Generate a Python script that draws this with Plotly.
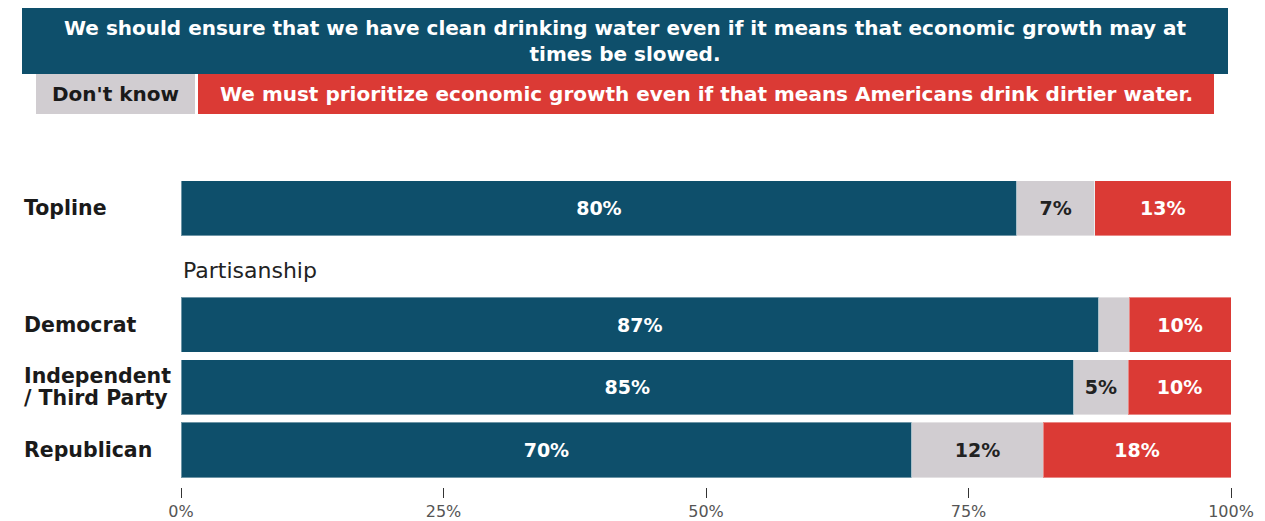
import plotly.graph_objects as go

# ---- data ----
categories = ["Topline", "Democrat", "Independent<br>/ Third Party", "Republican"]
clean_water = [79.6, 87.4, 85.0, 69.6]
dont_know = [7.4, 2.9, 5.2, 12.5]
economic_growth = [13.0, 9.7, 9.8, 17.9]
clean_water_labels = ["80%", "87%", "85%", "70%"]
dont_know_labels = ["7%", "", "5%", "12%"]
economic_growth_labels = ["13%", "10%", "10%", "18%"]
tick_values = [0, 25, 50, 75, 100]
tick_labels = ["0%", "25%", "50%", "75%", "100%"]
series_names = [
    "We should ensure that we have clean drinking water even if it means that economic growth may at<br>times be slowed.",
    "Don't know",
    "We must prioritize economic growth even if that means Americans drink dirtier water.",
]
group_label = "Partisanship"

# ---- layout constants (page pixels; page body has an 8px offset) ----
OFF = 8
W, H = 1265 - OFF, 521 - OFF
ML, MT = 181 - OFF, 181 - OFF
MR = W - (1231 - OFF)
MB = H - (487 - OFF)
PW, PH = W - ML - MR, H - MT - MB
row_pos = [3.87, 2.0, 1.0, 0.0]
BLUE, GREY, RED = "#0E4F6B", "#D1CDD1", "#DB3A35"
FONT = "DejaVu Sans"
LABEL_LINE_GAP = 22


def px_x(px):
    return (px - OFF - ML) / PW


def px_y(py):
    return (H - MB - (py - OFF)) / PH


fig = go.Figure()
for vals, labels, color, tcolor, name in [
    (clean_water, clean_water_labels, BLUE, "white", series_names[0]),
    (dont_know, dont_know_labels, GREY, "#222222", series_names[1]),
    (economic_growth, economic_growth_labels, RED, "white", series_names[2]),
]:
    fig.add_trace(go.Bar(
        x=vals, y=row_pos, orientation="h", width=0.88,
        marker=dict(color=color, line=dict(color="rgba(255,255,255,0.4)", width=1)),
        text=labels, textposition="inside", insidetextanchor="middle",
        textfont=dict(color=tcolor, size=19, family=FONT, weight=700),
        constraintext="none", name=name, showlegend=False,
        hoverinfo="x+name",
    ))

fig.update_layout(
    barmode="stack", width=W, height=H,
    margin=dict(l=ML, r=MR, t=MT, b=MB, autoexpand=False),
    plot_bgcolor="white", paper_bgcolor="white",
    font=dict(family=FONT, color="#222222"),
    xaxis=dict(range=[0, 100], tickvals=tick_values, ticktext=tick_labels,
               ticks="outside", ticklen=10, tickcolor="#333333", tickwidth=1,
               showgrid=False, zeroline=False, showline=False, automargin=False,
               tickfont=dict(size=16, color="#555555", family=FONT)),
    yaxis=dict(range=[-0.592, 4.302], showticklabels=False, showgrid=False,
               zeroline=False, showline=False, ticks="", automargin=False),
)

# category labels (multi-line labels drawn line by line for tighter spacing)
for cat, pos in zip(categories, row_pos):
    lines = cat.split("<br>")
    n = len(lines)
    for i, line in enumerate(lines):
        shift = ((n - 1) / 2 - i) * LABEL_LINE_GAP
        fig.add_annotation(x=px_x(22), y=pos, xref="paper", yref="y", text=line,
                           showarrow=False, xanchor="left", yanchor="middle", align="left",
                           yshift=shift,
                           font=dict(size=20.5, color="#1a1a1a", family=FONT, weight=700))

fig.add_annotation(x=0, y=2.865, xref="paper", yref="y", text=group_label,
                   showarrow=False, xanchor="left", yanchor="middle",
                   font=dict(size=22, color="#222222", family=FONT))

# header legend boxes
boxes = [
    (22, 1228, 8, 74, BLUE, series_names[0], "white"),
    (36, 195, 74, 114, GREY, series_names[1], "#1a1a1a"),
    (198, 1214, 74, 114, RED, series_names[2], "white"),
]
for x0, x1, y0, y1, col, txt, tcol in boxes:
    fig.add_shape(type="rect", xref="paper", yref="paper",
                  x0=px_x(x0), x1=px_x(x1), y0=px_y(y1), y1=px_y(y0),
                  fillcolor=col, line=dict(width=0), layer="above")
    fig.add_annotation(xref="paper", yref="paper", x=(px_x(x0) + px_x(x1)) / 2,
                       y=(px_y(y0) + px_y(y1)) / 2, text=txt, showarrow=False,
                       xanchor="center", yanchor="middle", align="center",
                       font=dict(size=20, color=tcol, family=FONT, weight=700))

fig.write_html("out.html")
